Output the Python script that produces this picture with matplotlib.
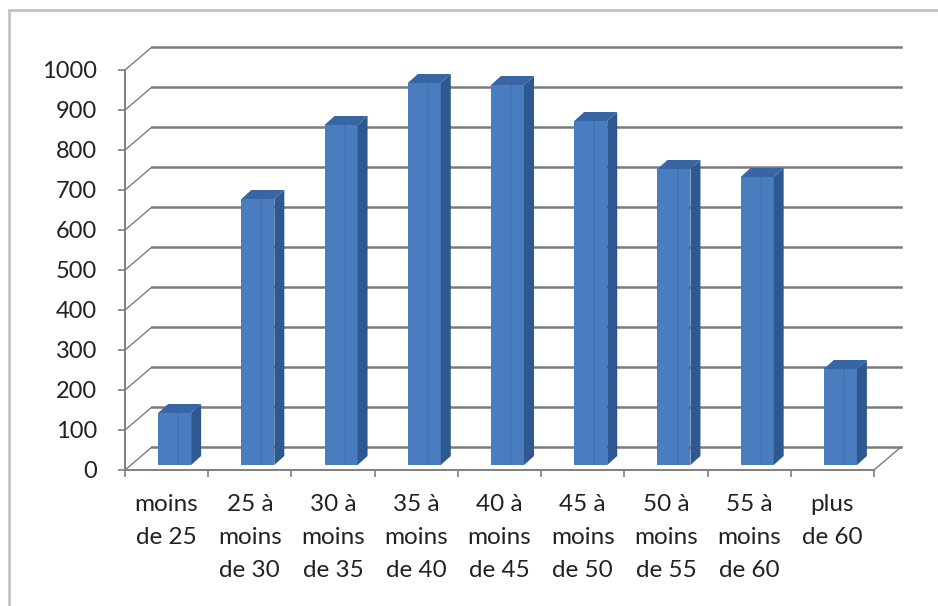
import numpy as np
import matplotlib.pyplot as plt
from matplotlib.patches import Polygon, Rectangle

# age bands and counts
categories = ["moins\nde 25", "25 à\nmoins\nde 30", "30 à\nmoins\nde 35",
              "35 à\nmoins\nde 40", "40 à\nmoins\nde 45", "45 à\nmoins\nde 50",
              "50 à\nmoins\nde 55", "55 à\nmoins\nde 60", "plus\nde 60"]
values = [130, 665, 850, 955, 950, 860, 740, 720, 240]
yticks = list(range(0, 1001, 100))

W, H = 938, 606
x0_px, x1_px = 125, 874
y0_px, y1_px = 470, 70
cat_px = (x1_px - x0_px) / len(categories)
val_px = (y0_px - y1_px) / 1000

# 3d offsets, pixels converted to data units
back_dx, back_dy = 27 / cat_px, 23 / val_px
bar_dx, bar_dy = 8 / cat_px, 5 / val_px
deep_dx, deep_dy = 10 / cat_px, 9 / val_px
bw = 33 / cat_px

plt.rcParams['font.family'] = ['Lato', 'DejaVu Sans']
fig = plt.figure(figsize=(W / 100, H / 100), dpi=100)
ax = fig.add_axes([x0_px / W, 1 - y0_px / H, (x1_px - x0_px) / W, (y0_px - y1_px) / H])
ax.set_xlim(0, len(categories))
ax.set_ylim(0, 1000)
ax.set_facecolor('none')

# chart border (only left/top visible)
fig.patches.append(Rectangle((9 / W, -0.05), 1.1, 1 - 10 / H + 0.05, transform=fig.transFigure,
                             fill=False, edgecolor='#c4c4c4', lw=2))

grid_c = '#7c7c7c'
n = len(categories)
for v in yticks:
    ax.plot([back_dx, n + back_dx], [v + back_dy, v + back_dy], color=grid_c, lw=1.8,
            clip_on=False, zorder=1)
    ax.plot([0, back_dx], [v, v + back_dy], color=grid_c, lw=1.0, clip_on=False, zorder=1)
# floor right edge
ax.plot([n, n + back_dx], [0, back_dy], color=grid_c, lw=1.0, clip_on=False, zorder=1)

# bars: front face, side and top
xs = np.arange(n) + 0.5 + bar_dx
ax.bar(xs, values, width=bw, bottom=bar_dy, color='#4a7dc0', edgecolor='none', zorder=3)
for x, v in zip(xs, values):
    xl, xr = x - bw / 2, x + bw / 2
    b, t = bar_dy, bar_dy + v
    ax.add_patch(Polygon([(xr, b), (xr + deep_dx, b + deep_dy), (xr + deep_dx, t + deep_dy), (xr, t)],
                         closed=True, facecolor='#2d5890', edgecolor='none', zorder=3, clip_on=False))
    ax.add_patch(Polygon([(xl, t), (xl + deep_dx, t + deep_dy), (xr + deep_dx, t + deep_dy), (xr, t)],
                         closed=True, facecolor='#3865a3', edgecolor='none', zorder=3, clip_on=False))
    ax.add_patch(Rectangle((xl + bw * 0.58, b), bw * 0.06, v, facecolor='#4475b6',
                           edgecolor='none', zorder=3))

for s in ['top', 'right']:
    ax.spines[s].set_visible(False)
for s in ['left', 'bottom']:
    ax.spines[s].set_color('#7f7f7f')
    ax.spines[s].set_linewidth(1.4)

ax.set_yticks(yticks)
ax.set_yticklabels([str(v) for v in yticks], fontsize=17, color='#222222')
ax.tick_params(axis='y', length=5, width=1.2, color='#7f7f7f', pad=15)

ax.set_xticks(np.arange(n) + 0.5)
ax.set_xticklabels(categories, fontsize=17.5, color='#222222', linespacing=1.72, va='top')
ax.tick_params(axis='x', which='major', length=0, pad=17)
ax.set_xticks(np.arange(n + 1), minor=True)
ax.tick_params(axis='x', which='minor', length=5, width=1.2, color='#7f7f7f')

fig.savefig('out.png', dpi=100)
